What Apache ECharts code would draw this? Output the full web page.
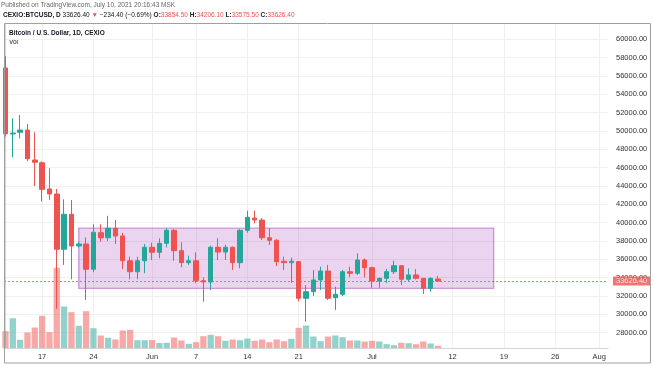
<!DOCTYPE html>
<html><head><meta charset="utf-8">
<script src="https://cdn.jsdelivr.net/npm/echarts@6/dist/echarts.min.js"></script>
<style>html,body{margin:0;padding:0;background:#fff}#c{width:654px;height:366px}</style>
</head><body><div id="c"></div>
<script>
// ---- data ----
const dates = ['2021-05-12','2021-05-13','2021-05-14','2021-05-15','2021-05-16','2021-05-17','2021-05-18','2021-05-19','2021-05-20','2021-05-21',
'2021-05-22','2021-05-23','2021-05-24','2021-05-25','2021-05-26','2021-05-27','2021-05-28','2021-05-29','2021-05-30','2021-05-31',
'2021-06-01','2021-06-02','2021-06-03','2021-06-04','2021-06-05','2021-06-06','2021-06-07','2021-06-08','2021-06-09','2021-06-10',
'2021-06-11','2021-06-12','2021-06-13','2021-06-14','2021-06-15','2021-06-16','2021-06-17','2021-06-18','2021-06-19','2021-06-20',
'2021-06-21','2021-06-22','2021-06-23','2021-06-24','2021-06-25','2021-06-26','2021-06-27','2021-06-28','2021-06-29','2021-06-30',
'2021-07-01','2021-07-02','2021-07-03','2021-07-04','2021-07-05','2021-07-06','2021-07-07','2021-07-08','2021-07-09','2021-07-10'];
const opens  = [56880,49680,49860,50110,46840,46540,43680,43130,37100,40920, 37460,37680,34920,38910,38360,39390,38550,35850,34650,35850,
                37320,36770,37750,39170,36950,35640,35850,33670,33530,37320, 36800,37320,35640,39170,40510,40290,38360,38080,35800,35640,
                35750,31750,32470,33750,34730,31820,32190,34650,34480,35930, 35090,33640,33930,34650,35310,33830,34300,33930,32840,33854.5];
const closes = [49700,49780,50110,46980,46590,43640,43130,37100,40920,37460, 37680,34920,38950,38360,39390,38550,35850,34650,35850,37320,
                36770,37750,39170,36950,35640,35850,33670,33530,37320,36800, 37320,35640,39170,40590,40290,38360,38080,35750,35640,35800,
                31750,32470,33750,34730,31750,32190,34650,34480,35930,35090, 33640,33930,34650,35310,33830,34300,33930,32840,33930,33626.4];
const lows   = [49400,47130,49200,46700,44000,42290,42480,30600,35390,33820, 37300,31570,34600,37930,38000,37680,34920,33820,33820,34480,
                35930,36120,37300,35850,35130,35400,33400,31380,32660,35930, 35930,34840,35030,38900,39930,38100,37570,35280,34840,33450,
                31400,29200,32000,32660,31570,30480,32000,34040,34300,34040, 32910,32910,33400,34400,33200,33600,33800,32220,32470,33575.5];
const highs  = [58150,51390,51750,50770,49860,46700,45930,43680,42550,42480, 37900,38400,39830,39830,40760,40290,38900,36290,36290,37680,
                37820,38300,39390,39300,37860,36400,36770,34040,37500,38300, 37600,37400,39300,41310,41310,40500,39390,38200,36290,36200,
                35800,33200,34840,35200,35390,33020,34840,35200,36660,36100, 35200,34000,34950,35850,35350,35030,34950,33950,34040,34206.1];
const volumes = [672,1192,328,620,820,1288,632,3208,1660,1432, 888,1472,792,500,408,340,700,728,312,312,
                 320,200,208,420,300,168,232,472,528,472, 288,340,312,380,288,340,232,340,272,368,
                 808,900,460,272,460,500,432,300,300,260, 288,260,152,112,208,192,152,260,180,88];
const tickDates  = ['2021-05-17','2021-05-24','2021-06-01','2021-06-07','2021-06-14','2021-06-21','2021-07-01','2021-07-12','2021-07-19','2021-07-26','2021-08-01'];
const tickTexts  = ['17','24','Jun','7','14','21','Jul','12','19','26','Aug'];
const priceTicks = [28000,30000,32000,34000,36000,38000,40000,42000,44000,46000,48000,50000,52000,54000,56000,58000,60000];
const lastPrice = 33626.40;
const boxDays  = [10, 66.6];        // rectangle drawing, in days from first candle
const boxPrice = [32840, 39400];

// ---- build ----
const UP = '#26a69a', DOWN = '#ef5350';
const t0 = Date.parse(dates[0]);
const dayIdx = d => Math.round((Date.parse(d) - t0) / 86400000);
const candleData = dates.map((d, i) => [dayIdx(d), opens[i], closes[i], lows[i], highs[i]]);
const volData = dates.map((d, i) => ({
  value: [dayIdx(d), volumes[i]],
  itemStyle: { color: closes[i] >= opens[i] ? 'rgba(38,166,154,0.5)' : 'rgba(239,83,80,0.5)' }
}));
const tickIdx = tickDates.map(dayIdx);
const tickMap = {}; tickIdx.forEach((v, i) => tickMap[v] = tickTexts[i]);

const FONT = 'Liberation Sans, Arial, sans-serif';
const chart = echarts.init(document.getElementById('c'), null, { renderer: 'canvas' });
chart.setOption({
  animation: false,
  backgroundColor: '#fff',
  grid: { left: 4, right: 46, top: 23, bottom: 18, containLabel: false },
  xAxis: {
    type: 'value', min: -0.2, max: 82.2,
    axisLine: { show: true, lineStyle: { color: '#d6d6d6' } },
    axisTick: { show: false, customValues: tickIdx },
    axisLabel: { customValues: tickIdx, formatter: v => tickMap[v] || '', color: '#333', fontSize: 7.5, fontFamily: FONT, margin: 5 },
    splitLine: { show: true, lineStyle: { color: '#f0f0f0', width: 1 } }
  },
  yAxis: [{
    type: 'value', position: 'right', min: 26330, max: 61785, scale: true,
    axisLine: { show: true, lineStyle: { color: '#d6d6d6' } },
    axisTick: { show: false, customValues: priceTicks },
    axisLabel: { customValues: priceTicks, formatter: v => v.toFixed(2), color: '#333', fontSize: 7.5, fontFamily: FONT, margin: 8 },
    splitLine: { show: true, lineStyle: { color: '#f0f0f0', width: 1 } }
  }, {
    type: 'value', min: 0, max: 13000, show: false, splitLine: { show: false }
  }],
  series: [{
    type: 'line', yAxisIndex: 0, data: [], z: 1, silent: true,
    markArea: {
      silent: true, z: 1,
      itemStyle: { color: 'rgba(156,39,176,0.2)', borderColor: 'rgba(156,39,176,0.45)', borderWidth: 1.3 },
      data: [[{ xAxis: boxDays[0], yAxis: boxPrice[1] }, { xAxis: boxDays[1], yAxis: boxPrice[0] }]]
    }
  }, {
    type: 'bar', yAxisIndex: 1, data: volData, barWidth: 6.3, z: 2, silent: true
  }, {
    type: 'line', yAxisIndex: 0, data: [], z: 3, silent: true,
    markLine: {
      silent: true, symbol: 'none', z: 3,
      lineStyle: { color: '#ef5350', type: [2, 2], width: 1, opacity: 0.8 },
      label: { show: true, position: 'end', distance: 5, formatter: lastPrice.toFixed(2), color: '#fff',
               backgroundColor: '#ef5350', padding: [1, 3, 0, 3], fontSize: 7.5, fontFamily: FONT },
      data: [{ yAxis: lastPrice }]
    }
  }, {
    type: 'candlestick', yAxisIndex: 0, data: candleData, barWidth: 5, z: 6, silent: true,
    itemStyle: { color: UP, color0: DOWN, borderColor: UP, borderColor0: DOWN, borderWidth: 1 }
  }],
  graphic: [
    { type: 'rect', silent: true, shape: { x: 4.5, y: 23.5, width: 646, height: 339.5 }, style: { fill: 'none', stroke: '#a0a0a0', lineWidth: 1 }, z: 100 },
    { type: 'text', left: 1, top: 2, style: { text: 'Published on TradingView.com, July 10, 2021 20:16:43 MSK', fill: '#666', fontSize: 6.5, fontFamily: FONT } },
    { type: 'text', left: 3, top: 12, style: {
        text: '{b|CEXIO:BTCUSD, D} {n|33626.40} {r|▼} {n|−234.40 (−0.69%)} {b|O:}{r|33854.50} {b|H:}{r|34206.10} {b|L:}{r|33575.50} {b|C:}{r|33626.40}',
        fontFamily: FONT, fontSize: 6.5,
        rich: { b: { fontWeight: 'bold', fill: '#131722', fontSize: 6.5, fontFamily: FONT },
                n: { fill: '#131722', fontSize: 6.5, fontFamily: FONT },
                r: { fill: '#ef5350', fontSize: 6.5, fontFamily: FONT } } } },
    { type: 'text', left: 9, top: 29.5, style: { text: 'Bitcoin / U.S. Dollar, 1D, CEXIO', fill: '#131722', fontWeight: 'bold', fontSize: 6.5, fontFamily: FONT } },
    { type: 'text', left: 9, top: 38.5, style: { text: 'Vol', fill: '#131722', fontSize: 6.5, fontFamily: FONT } }
  ]
});
</script></body></html>
